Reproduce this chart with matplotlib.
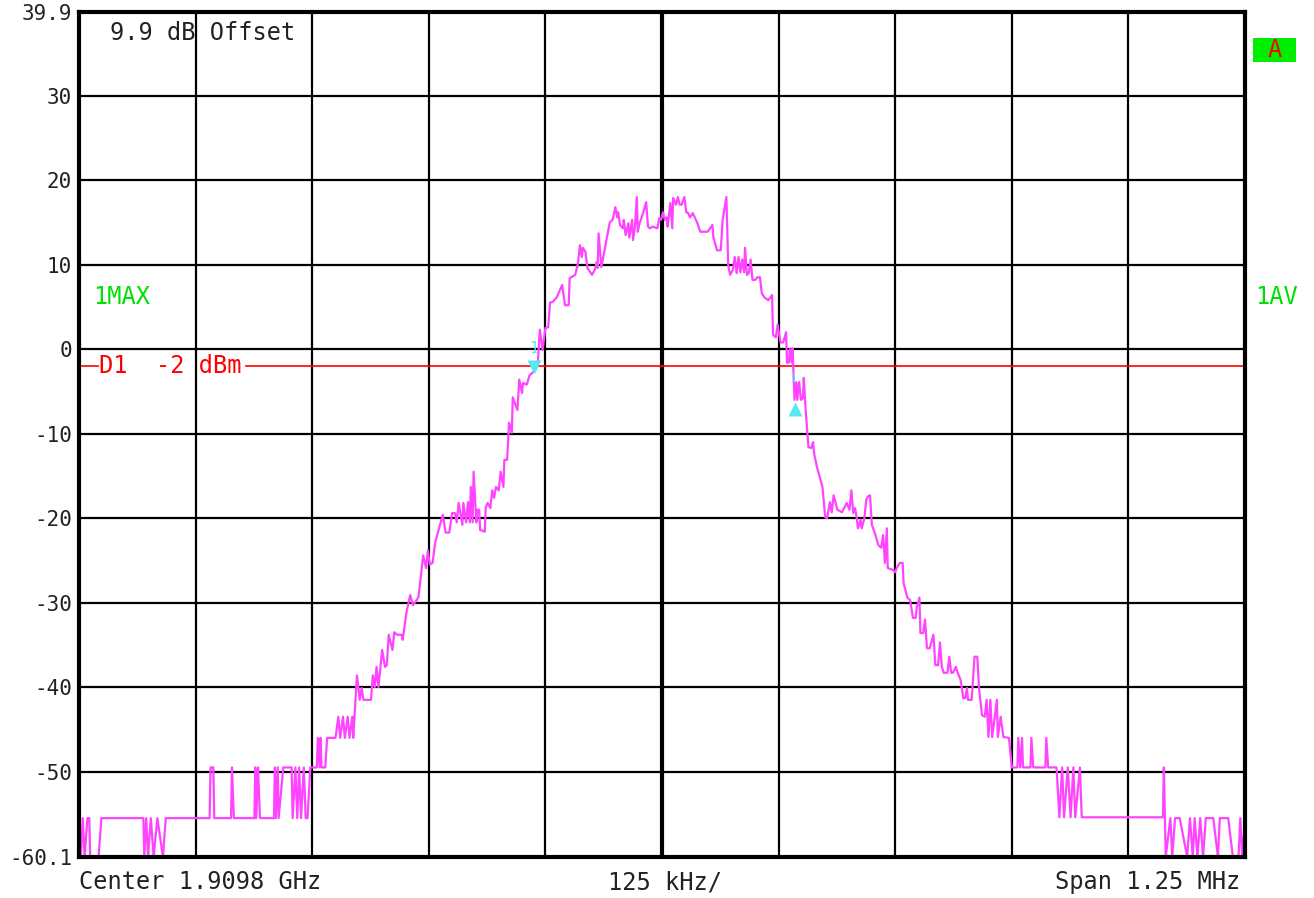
import matplotlib
matplotlib.use("Agg")
import matplotlib.pyplot as plt
from matplotlib.patches import Rectangle

# --- DATA (offset from centre in kHz, level in dBm) ---

freq_khz = [
    -625, -623, -621, -619, -616, -614, -613, -604, -601, -556, -555, -553, -551, -548,
    -545, -541, -535, -532, -485, -484, -481, -480, -462, -461, -459, -437, -436, -435,
    -433, -431, -416, -415, -414, -412, -411, -406, -397, -396, -393, -391, -389, -387,
    -384, -382, -380, -377, -370, -369, -367, -366, -365, -361, -359, -350, -347, -345,
    -342, -340, -337, -335, -332, -331, -327, -324, -322, -320, -312, -310, -308, -306,
    -304, -300, -297, -295, -293, -289, -287, -284, -279, -278, -274, -270, -267, -263,
    -261, -256, -253, -251, -249, -246, -243, -240, -235, -232, -228, -225, -222, -220,
    -218, -214, -213, -210, -208, -206, -205, -203, -202, -199, -198, -196, -195, -190,
    -189, -187, -184, -182, -180, -178, -175, -173, -170, -169, -166, -165, -164, -161,
    -160, -155, -153, -150, -149, -145, -142, -136, -133, -131, -128, -125, -122, -120,
    -117, -113, -107, -104, -100, -99, -93, -90, -88, -86, -85, -82, -80, -75,
    -72, -70, -69, -68, -65, -56, -53, -50, -48, -47, -45, -42, -41, -39,
    -36, -35, -32, -31, -29, -27, -26, -24, -20, -17, -15, -13, -10, -5,
    -3, -1, 1, 3, 5, 6, 9, 11, 12, 15, 17, 19, 21, 24,
    26, 28, 30, 33, 38, 41, 46, 49, 54, 55, 59, 63, 65, 69,
    71, 73, 76, 78, 80, 82, 84, 86, 88, 89, 91, 93, 95, 97,
    100, 102, 105, 107, 110, 114, 118, 119, 122, 124, 127, 130, 133, 134,
    136, 137, 139, 140, 142, 144, 145, 147, 149, 151, 152, 154, 157, 160,
    162, 163, 166, 169, 172, 175, 177, 180, 182, 184, 188, 193, 198, 201,
    203, 205, 207, 209, 210, 213, 214, 217, 219, 221, 223, 225, 228, 232,
    235, 237, 239, 241, 242, 247, 250, 252, 255, 258, 259, 263, 266, 269,
    272, 273, 276, 277, 280, 282, 284, 287, 291, 293, 296, 298, 300, 302,
    306, 308, 310, 312, 315, 317, 320, 323, 325, 327, 328, 332, 335, 338,
    340, 343, 346, 348, 350, 352, 354, 359, 360, 363, 366, 372, 375, 381,
    382, 384, 386, 387, 395, 396, 398, 411, 412, 414, 423, 426, 429, 431,
    435, 438, 441, 443, 448, 450, 537, 538, 540, 545, 547, 550, 555, 563,
    566, 569, 571, 574, 577, 580, 583, 591, 596, 598, 607, 612, 618, 620,
    622, 625,
]

level_db = [
    -55.5, -60.1, -55.5, -60.1, -55.5, -55.5, -60.1, -60.1, -55.5, -55.5, -60.1, -55.5, -60.1, -55.5,
    -60.1, -55.5, -60.1, -55.5, -55.5, -49.5, -49.5, -55.5, -55.5, -49.5, -55.5, -55.5, -49.5, -55.5,
    -49.5, -55.5, -55.5, -49.5, -55.5, -49.5, -55.5, -49.5, -49.5, -55.5, -49.5, -55.5, -49.5, -55.5,
    -49.5, -55.5, -55.5, -49.5, -49.5, -46.0, -49.5, -46.0, -49.5, -49.5, -46.0, -46.0, -43.5, -46.0,
    -43.5, -46.0, -43.5, -46.0, -43.5, -46.0, -38.6, -41.5, -40.1, -41.5, -41.5, -38.6, -40.0, -37.6,
    -40.0, -35.6, -37.6, -37.4, -33.8, -35.6, -33.5, -33.8, -33.8, -34.4, -31.2, -29.1, -30.3, -29.7,
    -29.3, -24.4, -25.9, -23.8, -25.5, -25.3, -22.8, -21.6, -19.6, -21.7, -21.7, -19.4, -19.4, -20.5,
    -18.2, -20.8, -18.2, -20.5, -18.1, -20.5, -16.3, -20.5, -14.5, -20.5, -19.0, -19.0, -21.4, -21.6,
    -18.8, -18.2, -18.8, -16.7, -17.6, -16.3, -16.7, -14.5, -16.3, -13.1, -13.1, -10.8, -8.7, -9.9,
    -5.7, -7.2, -3.6, -5.2, -4.0, -4.2, -3.1, -2.5, -1.5, 2.3, -0.1, 2.5, 2.6, 5.5,
    5.6, 6.1, 7.6, 5.2, 5.2, 8.4, 8.8, 10.2, 12.3, 10.9, 12.0, 11.5, 9.6, 8.8,
    9.4, 10.3, 9.6, 13.7, 9.7, 15.0, 15.3, 16.8, 15.6, 16.2, 14.7, 14.3, 15.3, 13.5,
    14.9, 13.2, 15.3, 12.9, 14.5, 18.0, 13.9, 14.9, 16.2, 17.4, 14.5, 14.3, 14.5, 14.3,
    15.5, 15.3, 16.2, 15.3, 15.6, 14.5, 17.3, 14.3, 17.9, 17.1, 18.0, 17.1, 17.1, 18.0,
    16.2, 16.1, 15.6, 16.1, 14.9, 13.9, 13.9, 13.9, 14.7, 13.3, 11.7, 11.7, 15.3, 18.0,
    9.9, 8.8, 9.4, 10.9, 9.0, 10.9, 9.1, 10.6, 9.1, 12.0, 8.8, 9.0, 10.6, 8.2,
    8.2, 8.5, 8.5, 6.6, 6.1, 5.8, 6.4, 1.7, 1.4, 2.9, 0.8, 0.8, 2.0, -1.6,
    -1.6, 0.0, -1.6, 0.1, -6.0, -3.9, -6.0, -3.9, -6.0, -5.8, -3.4, -7.2, -11.6, -11.7,
    -11.0, -12.3, -13.9, -15.1, -16.3, -19.9, -20.0, -18.1, -19.3, -17.3, -19.0, -19.3, -18.2, -19.0,
    -16.7, -19.4, -18.8, -20.2, -21.2, -20.2, -21.2, -20.0, -17.8, -17.4, -17.3, -20.8, -21.7, -23.2,
    -23.5, -22.0, -25.3, -21.2, -25.9, -26.1, -26.4, -25.8, -25.3, -25.3, -27.7, -29.4, -29.7, -31.8,
    -31.8, -30.6, -29.4, -33.6, -33.6, -32.0, -35.4, -35.4, -33.8, -37.4, -37.4, -34.7, -37.6, -38.3,
    -38.3, -36.4, -38.3, -38.3, -37.6, -38.3, -39.1, -41.3, -41.3, -40.1, -41.5, -41.5, -36.4, -36.4,
    -40.3, -43.3, -43.5, -41.5, -45.9, -41.5, -45.9, -41.5, -45.9, -43.5, -45.9, -46.0, -49.5, -49.5,
    -46.0, -49.5, -46.0, -49.5, -49.5, -46.0, -49.5, -49.5, -46.0, -49.5, -49.5, -55.4, -49.5, -55.4,
    -49.5, -55.4, -49.5, -55.4, -49.5, -55.4, -55.4, -49.5, -60.1, -55.5, -60.1, -55.5, -55.5, -60.1,
    -55.5, -60.1, -55.5, -60.1, -55.5, -60.1, -55.5, -55.5, -60.1, -55.5, -55.5, -60.1, -60.1, -55.5,
    -60.1, -55.5,
]

# markers (freq kHz, level dBm) : left marker 1 and right delta marker
marker_freq = [-137, 143]
marker_level = [-2.1, -7.1]

display_line = -2.0
ref_top = 39.9
ref_bottom = -60.1
span_khz = 1250
ytick_vals = [ref_bottom, -50, -40, -30, -20, -10, 0, 10, 20, 30, ref_top]
ytick_labels = ["-60.1", "-50", "-40", "-30", "-20", "-10", "0", "10", "20", "30", "39.9"]

# --- STYLE ---
FONT = "DejaVu Sans Mono"
TRACE = "#ff44ff"
CYAN = "#55eaf0"
GREEN = "#00e000"
RED = "#ff0000"
INK = "#222222"
BIG = 17

fig = plt.figure(figsize=(13.14, 8.98), dpi=100)
ax = fig.add_axes([79 / 1314, 1 - 857 / 898, 1166 / 1314, 845 / 898])

half = span_khz / 2
ax.set_xlim(-half, half)
ax.set_ylim(ref_bottom, ref_top)

# grid: 10 x divisions, 10 dB y divisions
for k in range(1, 10):
    xv = -half + k * span_khz / 10
    ax.axvline(xv, color="black", lw=3.0 if k == 5 else 1.6, zorder=1)
for yv in ytick_vals[1:-1]:
    ax.axhline(yv, color="black", lw=1.6, zorder=1)

for s in ax.spines.values():
    s.set_linewidth(3)
    s.set_zorder(5)

ax.set_xticks([])
ax.set_yticks(ytick_vals)
ax.set_yticklabels(ytick_labels, fontfamily=FONT, fontsize=15, color=INK)
ax.tick_params(axis="y", length=0, pad=5)

# display line D1, broken around its label
ax.axhline(display_line, xmin=0, xmax=0.016, color=RED, lw=1.2, zorder=2)
ax.axhline(display_line, xmin=0.143, xmax=1, color=RED, lw=1.2, zorder=2)
ax.text(0.017, display_line, "D1  -2 dBm", transform=ax.get_yaxis_transform(),
        color=RED, fontfamily=FONT, fontsize=BIG, va="center", ha="left")

# trace
ax.plot(freq_khz, level_db, color=TRACE, lw=1.6, zorder=3)

# markers
ax.plot(marker_freq[0], marker_level[0], marker="v", ms=10, color=CYAN, zorder=4, mec="none")
ax.plot(marker_freq[1], marker_level[1], marker="^", ms=10, color=CYAN, zorder=4, mec="none")
ax.text(marker_freq[0], marker_level[0] + 2.2, "1", color=CYAN, fontfamily=FONT,
        fontsize=11, ha="center", va="center", zorder=4)
ax.text(marker_freq[1] - 2, marker_level[1] + 3.6, "1", color=CYAN, fontfamily=FONT,
        fontsize=9, ha="center", va="center", zorder=4)

# annotations inside the screen
ax.text(0.027, 0.975, "9.9 dB Offset", transform=ax.transAxes, fontfamily=FONT,
        fontsize=BIG, va="center", ha="left", color=INK)
ax.text(0.012, 0.663, "1MAX", transform=ax.transAxes, fontfamily=FONT,
        fontsize=BIG, va="center", ha="left", color=GREEN)

# outside labels
fig.text(1255 / 1314, 1 - 297 / 898, "1AV", fontfamily=FONT, fontsize=BIG,
         va="center", ha="left", color=GREEN)
fig.patches.append(Rectangle((1253 / 1314, 1 - 62 / 898), 43 / 1314, 24 / 898,
                             transform=fig.transFigure, fc="#00ee00", ec="none"))
fig.text(1275 / 1314, 1 - 50 / 898, "A", fontfamily=FONT, fontsize=BIG, va="center",
         ha="center", color=RED)
fig.text(79 / 1314, 1 - 882 / 898, "Center 1.9098 GHz", fontfamily=FONT, fontsize=BIG,
         va="center", ha="left", color=INK)
fig.text(665 / 1314, 1 - 882 / 898, "125 kHz/", fontfamily=FONT, fontsize=BIG,
         va="center", ha="center", color=INK)
fig.text(1240 / 1314, 1 - 882 / 898, "Span 1.25 MHz", fontfamily=FONT, fontsize=BIG,
         va="center", ha="right", color=INK)

fig.savefig("out.png", dpi=100, facecolor="white")
